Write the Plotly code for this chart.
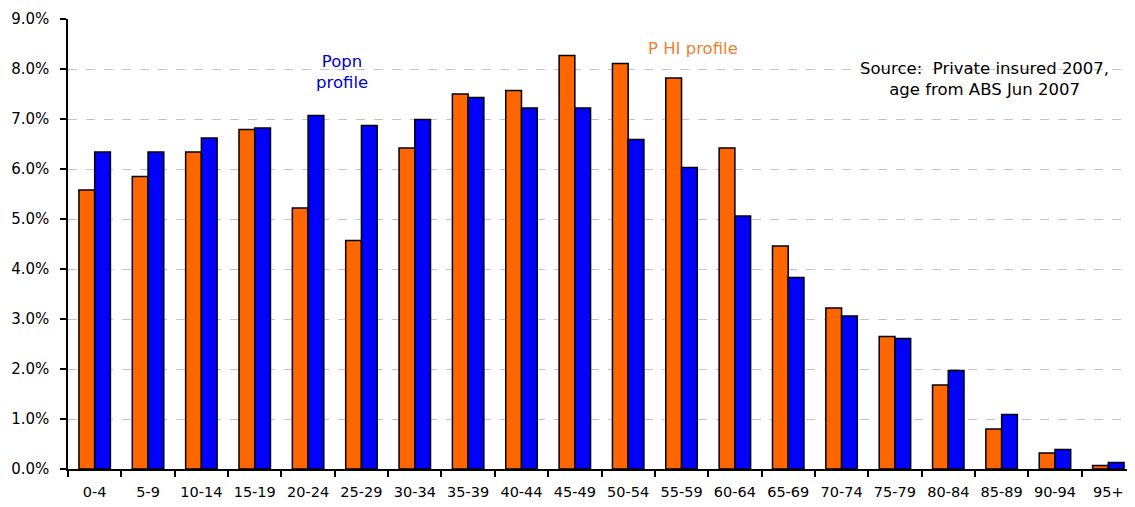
import plotly.graph_objects as go

age_groups = ["0-4", "5-9", "10-14", "15-19", "20-24", "25-29", "30-34", "35-39",
              "40-44", "45-49", "50-54", "55-59", "60-64", "65-69", "70-74",
              "75-79", "80-84", "85-89", "90-94", "95+"]
phi_profile = [5.58, 5.85, 6.34, 6.79, 5.22, 4.57, 6.42, 7.50, 7.57, 8.27,
               8.11, 7.82, 6.42, 4.46, 3.22, 2.65, 1.68, 0.80, 0.32, 0.07]
popn_profile = [6.34, 6.34, 6.62, 6.82, 7.07, 6.87, 6.99, 7.43, 7.22, 7.22,
                6.59, 6.03, 5.06, 3.83, 3.06, 2.61, 1.97, 1.09, 0.39, 0.13]
y_ticks = [0, 1, 2, 3, 4, 5, 6, 7, 8, 9]

font_main = "DejaVu Sans"

fig = go.Figure()
fig.add_trace(go.Bar(x=age_groups, y=phi_profile, name="PHI profile",
                     marker=dict(color="#FF6600", line=dict(color="#000000", width=1.5))))
fig.add_trace(go.Bar(x=age_groups, y=popn_profile, name="Popn profile",
                     marker=dict(color="#0000FF", line=dict(color="#000000", width=1.5))))

fig.update_layout(
    width=1127, height=499,
    margin=dict(l=60, r=0, t=11, b=38),
    paper_bgcolor="white", plot_bgcolor="white",
    barmode="group", bargap=0.41, bargroupgap=0,
    showlegend=False,
    font=dict(family=font_main, size=14, color="#000000"),
)
fig.update_xaxes(
    type="category", range=[-0.5, 19.5],
    showline=True, linecolor="#000000", linewidth=1.5,
    ticks="outside", tickson="boundaries", ticklen=6, tickcolor="#000000", tickwidth=1.5,
    showgrid=False, tickfont=dict(family=font_main, size=14.5),
    ticklabelstandoff=9,
)
fig.update_yaxes(
    range=[0, 9], tickvals=y_ticks,
    ticktext=[f"{v:.1f}%" for v in y_ticks],
    showline=True, linecolor="#000000", linewidth=1.5,
    ticks="outside", ticklen=6, tickcolor="#000000", tickwidth=1.5,
    showgrid=True, gridcolor="#C4C4C4", griddash="dash", gridwidth=1,
    zeroline=False, tickfont=dict(family=font_main, size=15),
    ticklabelstandoff=8,
)

fig.add_annotation(x=0.257, y=7.94, xref="paper", yref="y", text="Popn<br>profile",
                   xanchor="center", yanchor="middle",
                   showarrow=False, font=dict(family=font_main, size=16.5, color="#0000CC"),
                   align="center")
fig.add_annotation(x=0.586, y=8.42, xref="paper", yref="y", text="P HI profile",
                   xanchor="center", yanchor="middle",
                   showarrow=False, font=dict(family=font_main, size=16.5, color="#F08030"),
                   align="center")
fig.add_annotation(x=0.859, y=7.8, xref="paper", yref="y",
                   text="Source:  Private insured 2007,<br>age from ABS Jun 2007",
                   xanchor="center", yanchor="middle",
                   showarrow=False, font=dict(family=font_main, size=16.5, color="#000000"),
                   align="center")

fig.write_html("out.html")
